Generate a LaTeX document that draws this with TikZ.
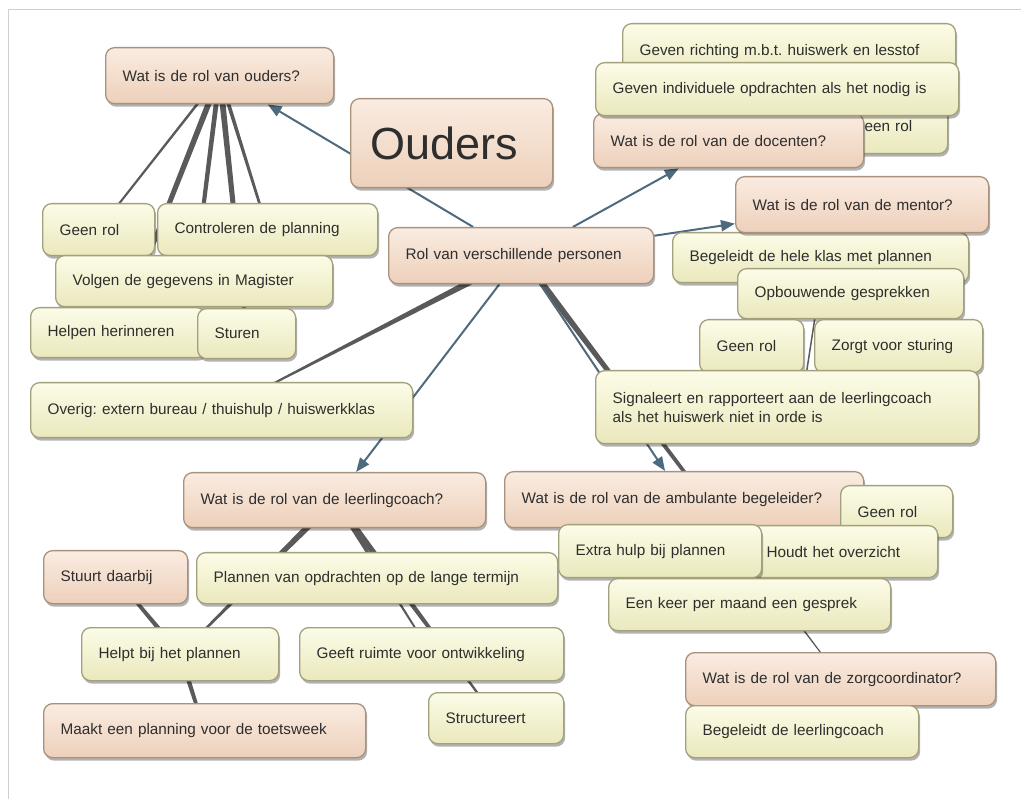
\documentclass[tikz,border=0pt]{standalone}
\usepackage{fontspec}
\setmainfont{Liberation Sans}
\frenchspacing
\usetikzlibrary{calc,shadows,arrows.meta}
\pgfdeclarelayer{bg}
\pgfsetlayers{bg,main}
\definecolor{pkT}{HTML}{FAECE1}
\definecolor{pkB}{HTML}{EDD0BA}
\definecolor{pkD}{HTML}{A8927E}
\definecolor{ywT}{HTML}{FCFCE8}
\definecolor{ywB}{HTML}{EAE8BC}
\definecolor{ywD}{HTML}{A3A07E}
\definecolor{txt}{HTML}{2E2E2E}
\definecolor{arr}{HTML}{4E6A7E}
\definecolor{lnk}{HTML}{5A5A5A}
\definecolor{frm}{HTML}{CFCFCF}
\tikzset{
  box/.style={rounded corners=9pt, line width=1.3pt, anchor=north west,
    inner xsep=17pt, inner ysep=2pt, align=left, text=txt,
    font=\fontsize{15.3}{19}\selectfont,
    drop shadow={shadow xshift=1.5pt, shadow yshift=-3pt, opacity=0.3, fill=black}},
  pk/.style={box, draw=pkD, top color=pkT, bottom color=pkB},
  yw/.style={box, draw=ywD, top color=ywT, bottom color=ywB},
  arrowline/.style={draw=arr, line width=2pt, -{Triangle[length=14pt,width=11pt]}},
  taperfill/.style={fill=lnk},
}
\newcommand\mmbox[7]{%
  \pgfmathsetmacro\mmtw{#5-34}%
  \node[#1, minimum width=#5pt, minimum height=#6pt, text width=\mmtw pt] (#2) at (#3,#4) {#7};}
\newcommand\mmtaper[4]{%
  \fill[taperfill] ($(#1.center)!#3!90:(#2.center)$) -- ($(#1.center)!#3!-90:(#2.center)$)
    -- ($(#2.center)!#4!90:(#1.center)$) -- ($(#2.center)!#4!-90:(#1.center)$) -- cycle;}
\begin{document}
\begin{tikzpicture}[x=1pt,y=-1pt]
\useasboundingbox (0,0) rectangle (1021,799);

% --- parents / ouders cluster
\mmbox{pk}{qo}{105}{47}{228}{56}{Wat is de rol van ouders?}
\node[pk, font=\fontsize{45}{50}\selectfont, inner xsep=20pt, minimum width=202pt, minimum height=89pt, text width=162pt] (ouders) at (350,98) {Ouders};
\mmbox{pk}{rol}{388}{227}{265}{56}{Rol van verschillende personen}
\mmbox{yw}{geenrolL}{42}{203}{112}{52}{Geen rol}
\mmbox{yw}{contr}{157}{203}{220}{52}{Controleren de planning}
\mmbox{yw}{volgen}{55}{255}{277}{51}{Volgen de gegevens in Magister}
\mmbox{yw}{helpen}{30}{307}{175}{50}{Helpen herinneren}
\mmbox{yw}{sturen}{197}{308}{98}{50}{Sturen}

% --- docenten cluster
\mmbox{yw}{richting}{622}{23}{333}{56}{Geven richting m.b.t. huiswerk en lesstof}
\mmbox{yw}{geenrolT}{835}{97}{112}{56}{Geen rol}
\mmbox{pk}{doc}{593}{113}{270}{54}{Wat is de rol van de docenten?}
\mmbox{yw}{indiv}{595}{62}{363}{53}{Geven individuele opdrachten als het nodig is}

% --- mentor cluster
\mmbox{yw}{bk}{672}{232}{296}{50}{Begeleidt de hele klas met plannen}
\mmbox{pk}{mentor}{735}{176}{253}{56}{Wat is de rol van de mentor?}
\mmbox{yw}{ob}{737}{268}{226}{50}{Opbouwende gesprekken}
\mmbox{yw}{geenrolM}{699}{319}{104}{53}{Geen rol}
\mmbox{yw}{zorgt}{814}{319}{168}{53}{Zorgt voor sturing}
\mmbox{yw}{sig}{595}{370}{383}{73}{Signaleert en rapporteert aan de leerlingcoach\\als het huiswerk niet in orde is}

% --- leerlingcoach cluster
\mmbox{yw}{overig}{30}{382}{382}{55}{Overig: extern bureau / thuishulp / huiswerkklas}
\mmbox{pk}{lc}{183}{472}{302}{55}{Wat is de rol van de leerlingcoach?}
\mmbox{pk}{stuurt}{43}{550}{144}{53}{Stuurt daarbij}
\mmbox{yw}{plannen}{196}{552}{361}{51}{Plannen van opdrachten op de lange termijn}
\mmbox{yw}{helpt}{81}{627}{197}{53}{Helpt bij het plannen}
\mmbox{yw}{geeft}{299}{627}{264}{53}{Geeft ruimte voor ontwikkeling}
\mmbox{yw}{struct}{428}{692}{135}{51}{Structureert}
\mmbox{pk}{maakt}{43}{703}{322}{54}{Maakt een planning voor de toetsweek}

% --- ambulante / zorg cluster
\mmbox{pk}{amb}{504}{471}{359}{56}{Wat is de rol van de ambulante begeleider?}
\mmbox{yw}{geenrolA}{840}{485}{112}{52}{Geen rol}
\mmbox{yw}{houdt}{749}{525}{188}{52}{Houdt het overzicht}
\mmbox{yw}{extra}{558}{524}{203}{53}{Extra hulp bij plannen}
\mmbox{yw}{eenkeer}{608}{578}{282}{52}{Een keer per maand een gesprek}
\mmbox{pk}{zorg}{685}{652}{310}{53}{Wat is de rol van de zorgcoordinator?}
\mmbox{yw}{blc}{685}{705}{233}{52}{Begeleidt de leerlingcoach}

\begin{pgfonlayer}{bg}
  \fill[white] (0,0) rectangle (1021,799);
  \draw[frm, line width=1pt] (8,799) -- (8,10) -- (1021,10);
  \mmtaper{qo}{geenrolL}{1.3pt}{1pt}
  \mmtaper{qo}{helpen}{3pt}{2pt}
  \mmtaper{qo}{volgen}{2.5pt}{1.8pt}
  \mmtaper{qo}{sturen}{3pt}{2pt}
  \mmtaper{qo}{contr}{2pt}{1.2pt}
  \mmtaper{rol}{overig}{3.5pt}{0.5pt}
  \mmtaper{rol}{zorg}{3.3pt}{0.4pt}
  \mmtaper{lc}{helpt}{3.5pt}{0.8pt}
  \mmtaper{lc}{struct}{3.5pt}{0.8pt}
  \mmtaper{lc}{geeft}{2pt}{0.7pt}
  \mmtaper{helpt}{stuurt}{2.5pt}{1.5pt}
  \mmtaper{helpt}{maakt}{2.5pt}{1.5pt}
  \draw[lnk, line width=1.5pt] ($(ob.center)+(-32,0)$) -- ($(sig.center)+(14,0)$);
  \draw[arrowline] (rol) -- (qo);
  \draw[arrowline] (rol) -- (doc);
  \draw[arrowline] (rol) -- (mentor);
  \draw[arrowline] (rol) -- (lc);
  \draw[arrowline] (rol) -- (amb);
\end{pgfonlayer}
\end{tikzpicture}
\end{document}
